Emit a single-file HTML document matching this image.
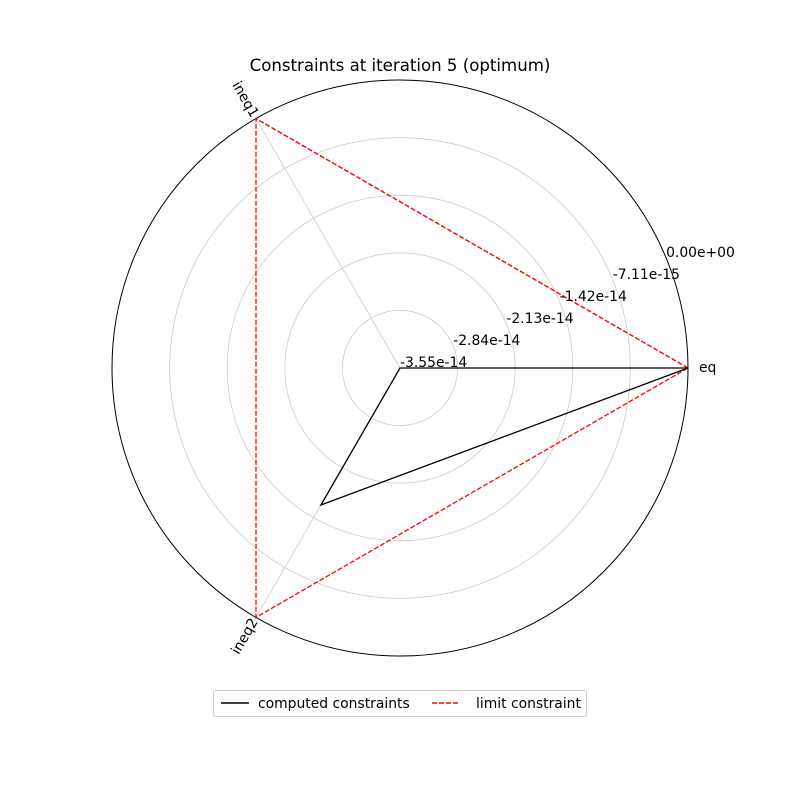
<!DOCTYPE html>
<html><head><meta charset="utf-8"><style>
body{margin:0;background:#fff}
svg text{font-family:"DejaVu Sans","Liberation Sans",sans-serif;font-size:13.9px;fill:#000}
</style></head><body>
<svg width="800" height="800">
<g id="grid"></g><g id="marks"></g><g id="labels"></g>
<text x="400" y="71" text-anchor="middle" style="font-size:16.6px">Constraints at iteration 5 (optimum)</text>
<g>
<rect x="213.5" y="690.5" width="373" height="26" fill="#fff" stroke="#ccc" rx="2"/>
<line x1="221" y1="703" x2="249" y2="703" stroke="#000" stroke-width="1.5"/>
<text x="258" y="708">computed constraints</text>
<line x1="432" y1="703" x2="460" y2="703" stroke="red" stroke-width="1.5" stroke-dasharray="5,2"/>
<text x="476" y="708">limit constraint</text>
</g>
</svg>
<script>
const categories=["eq","ineq1","ineq2"];
const computedValues=[0,-3.55e-14,-1.6e-14];
const limitValues=[0,0,0];
const tickValues=[-3.55e-14,-2.84e-14,-2.13e-14,-1.42e-14,-7.11e-15,0];
const tickLabels=["-3.55e-14","-2.84e-14","-2.13e-14","-1.42e-14","-7.11e-15","0.00e+00"];
const cx=400,cy=368,R=288,rmin=-3.55e-14,rmax=0;
const NS="http://www.w3.org/2000/svg";
function rScale(v){return (v-rmin)/(rmax-rmin)*R;}
function ang(i){return i*2*Math.PI/categories.length;}
function pt(i,v){const r=rScale(v),a=ang(i);return [cx+r*Math.cos(a),cy-r*Math.sin(a)];}
function mk(t,attrs,parent){const e=document.createElementNS(NS,t);for(const k in attrs)e.setAttribute(k,attrs[k]);document.getElementById(parent).appendChild(e);return e;}
tickValues.forEach((v,i)=>{
  const r=rScale(v);
  if(r>0){const c=mk("circle",{cx:cx,cy:cy,r:r,fill:"none",stroke:i===tickValues.length-1?"#000":"#ccc","stroke-width":i===tickValues.length-1?1:0.8},"grid");
  
  }
  const a=22.5*Math.PI/180;
  const t=mk("text",{x:cx+r*Math.cos(a),y:cy-r*Math.sin(a)-1},"labels");
  t.textContent=tickLabels[i];
  
  
});
categories.forEach((c,i)=>{
  const p=pt(i,rmax);
  const l=mk("line",{x1:cx,y1:cy,x2:p[0],y2:p[1],stroke:"#ccc","stroke-width":0.8},"grid");
  
  
  const a=ang(i),lr=i===0?R+12:R+22;
  const lx=cx+lr*Math.cos(a),ly=cy-lr*Math.sin(a);
  let rot=0;
  if(i===1)rot=60; if(i===2)rot=-60;
  const t=mk("text",{x:i===0?lx-1:lx,y:ly,"text-anchor":i===0?"start":"middle","dominant-baseline":"middle",transform:"rotate("+rot+" "+lx+" "+ly+")"},"labels");
  t.textContent=c;
  
  
});
function poly(vals,stroke,dash,name){
  const pts=vals.map((v,i)=>pt(i,v).join(",")).join(" ");
  const e=mk("polygon",{points:pts,fill:"none",stroke:stroke,"stroke-width":1.3},"marks");
  if(dash)e.setAttribute("stroke-dasharray",dash);
  
  
}
poly(limitValues,"red","5,2","limit-constraint-series");
poly(computedValues,"#000",null,"computed-constraints-series");
</script>
</body></html>
